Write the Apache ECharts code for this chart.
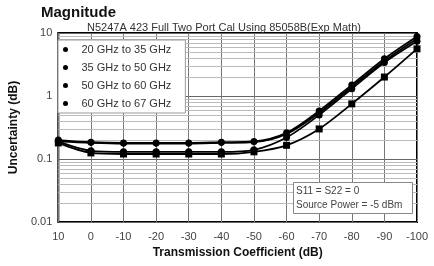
<!DOCTYPE html>
<html><head><meta charset="utf-8">
<script src="https://cdn.jsdelivr.net/npm/echarts@6/dist/echarts.min.js"></script>
<style>html,body{margin:0;padding:0;background:#fff}#c{width:434px;height:266px}</style>
</head><body><div id="c"></div>
<script>
const transmission = [10, 0, -10, -20, -30, -40, -50, -60, -70, -80, -90, -100];
const seriesNames = ['20 GHz to 35 GHz', '35 GHz to 50 GHz', '50 GHz to 60 GHz', '60 GHz to 67 GHz'];
const band20to35 = [0.20, 0.185, 0.18, 0.18, 0.18, 0.185, 0.19, 0.26, 0.58, 1.5, 3.9, 8.8];
const band35to50 = [0.19, 0.18, 0.175, 0.175, 0.175, 0.18, 0.185, 0.25, 0.54, 1.4, 3.6, 8.1];
const band50to60 = [0.19, 0.135, 0.13, 0.13, 0.13, 0.13, 0.14, 0.22, 0.50, 1.3, 3.4, 7.4];
const band60to67 = [0.18, 0.125, 0.12, 0.12, 0.12, 0.12, 0.13, 0.165, 0.30, 0.75, 2.0, 5.6];
const yTicks = [0.01, 0.1, 1, 10];
const xTicks = [10, 0, -10, -20, -30, -40, -50, -60, -70, -80, -90, -100];
const minorGrid = [];
for (let d = 0.01; d < 10; d *= 10) for (let k = 2; k <= 9; k++) minorGrid.push(+(d * k).toPrecision(2));

const allBands = [band20to35, band35to50, band50to60, band60to67];
const symbols = ['circle', 'diamond', 'circle', 'rect'];
const font = 'Arial, "Liberation Sans", sans-serif';

const series = allBands.map((vals, i) => ({
  name: seriesNames[i],
  type: 'line',
  smooth: 0.3,
  data: transmission.map((x, j) => [x, vals[j]]),
  symbol: symbols[i],
  symbolSize: 7,
  itemStyle: { color: '#000' },
  lineStyle: { color: '#000', width: 1.8 },
  z: 5
}));
series.push({
  type: 'line', data: [], silent: true, z: 1,
  markLine: {
    silent: true, symbol: 'none', label: { show: false }, z: 1,
    lineStyle: { color: '#bbb', width: 1, type: 'solid' },
    data: minorGrid.map(v => ({ yAxis: v }))
  }
});

const chart = echarts.init(document.getElementById('c'), null, { renderer: 'canvas' });
chart.setOption({
  animation: false,
  backgroundColor: '#fff',
  textStyle: { fontFamily: font },
  title: [
    { text: 'Magnitude', left: 36, top: 0, textStyle: { fontSize: 15, fontWeight: 'bold', color: '#111', fontFamily: font } },
    { text: 'N5247A 423 Full Two Port Cal Using 85058B(Exp Math)', left: 82, top: 17, textStyle: { fontSize: 11, fontWeight: 'normal', color: '#333', fontFamily: font } }
  ],
  grid: { left: 50, right: 17, top: 33, bottom: 44, show: true, borderColor: '#000', borderWidth: 2, backgroundColor: 'transparent' },
  legend: {
    data: seriesNames, orient: 'vertical', left: 58, top: 40,
    itemWidth: 6, itemHeight: 5, itemGap: 7,
    backgroundColor: '#fff', borderColor: '#999', borderWidth: 1, padding: [4, 14, 4, 5],
    textStyle: { fontSize: 11, color: '#333', fontFamily: font, padding: [0, 0, 0, 8] },
    icon: 'circle', z: 10
  },
  xAxis: {
    type: 'value', inverse: true, min: -100, max: 10, interval: 10,
    name: 'Transmission Coefficient (dB)', nameLocation: 'middle', nameGap: 24,
    nameTextStyle: { fontSize: 12, fontWeight: 'bold', color: '#111', fontFamily: font },
    axisLine: { show: false }, axisTick: { show: false },
    axisLabel: { fontSize: 11, color: '#444', margin: 9, formatter: v => xTicks.includes(v) ? String(v) : '' },
    splitLine: { show: true, lineStyle: { color: '#777', width: 1 } }
  },
  yAxis: {
    type: 'log', logBase: 10, min: 0.01, max: 10,
    name: 'Uncertainty (dB)', nameLocation: 'middle', nameGap: 32,
    nameTextStyle: { fontSize: 12, fontWeight: 'bold', color: '#111', fontFamily: font },
    axisLine: { show: false }, axisTick: { show: false },
    axisLabel: { fontSize: 11, color: '#444', margin: 6, formatter: v => { const t = yTicks.find(t => Math.abs(t - v) / t < 1e-6); return t === undefined ? '' : String(t); } },
    splitLine: { show: true, lineStyle: { color: '#666', width: 1 } }
  },
  graphic: [
    { type: 'rect', left: 293, top: 182, z: 100, shape: { width: 119, height: 31 }, style: { fill: '#fff', stroke: '#888', lineWidth: 1 } },
    { type: 'text', left: 296, top: 186, z: 101, style: { text: 'S11 = S22 = 0', fontSize: 10, fill: '#444', fontFamily: font } },
    { type: 'text', left: 296, top: 200, z: 101, style: { text: 'Source Power = -5 dBm', fontSize: 10, fill: '#444', fontFamily: font } }
  ],
  series: series
});
</script></body></html>
